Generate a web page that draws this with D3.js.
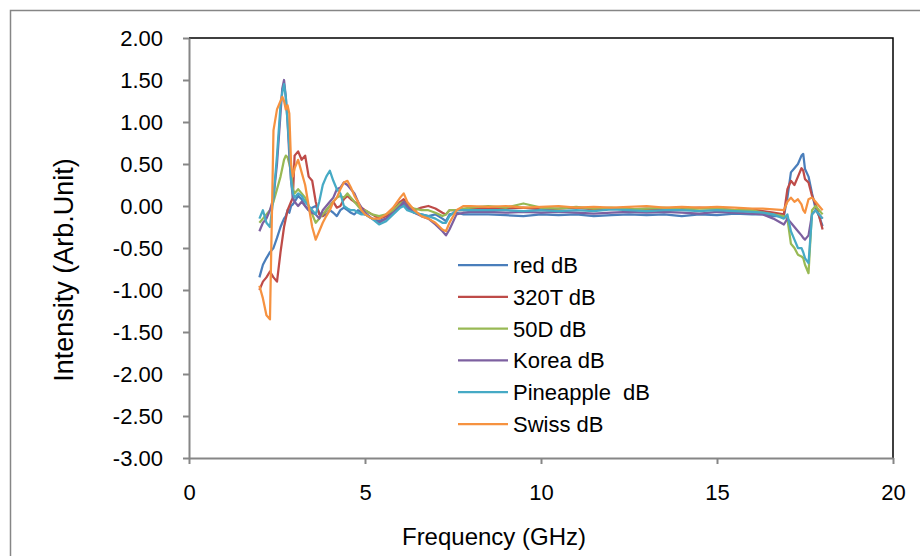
<!DOCTYPE html>
<html>
<head>
<meta charset="utf-8">
<script src="https://cdn.jsdelivr.net/npm/d3@7"></script>
<style>
	html, body { margin: 0; padding: 0; background: #fff; }
	svg { display: block; font-family: "Liberation Sans", Arial, sans-serif; }
</style>
</head>
<body>
<svg id="chart" width="920" height="556"></svg>
<script>
// Frequency points (GHz) shared by every series
const freq = [
	2.0, 2.1, 2.2, 2.3, 2.4, 2.5, 2.6, 2.65, 2.7, 2.75, 2.8, 2.85, 2.9, 2.95, 3.0,
	3.1, 3.2, 3.3, 3.4, 3.5, 3.6, 3.7, 3.8, 3.9, 4.0, 4.1, 4.2, 4.3, 4.4, 4.5,
	4.6, 4.7, 4.8, 4.9, 5.0,
	5.2, 5.4, 5.6, 5.8, 6.0, 6.1, 6.2, 6.4, 6.6, 6.8, 7.0, 7.2, 7.3, 7.4, 7.6, 7.8, 8.0,
	8.5, 9.0, 9.5, 10.0, 10.5, 11.0, 11.5, 12.0, 12.5, 13.0, 13.5, 14.0, 14.5, 15.0, 15.5, 16.0,
	16.3, 16.6, 16.9, 17.0, 17.1, 17.2, 17.3, 17.4, 17.45, 17.5, 17.6, 17.7, 17.8, 17.9, 18.0
];

const redDb = [
	-0.85, -0.70, -0.62, -0.55, -0.50, -0.38, -0.25, -0.20, -0.15, -0.12, -0.05, -0.08, 0.00, 0.02, 0.05,
	0.12, 0.08, 0.00, -0.05, -0.02, 0.00, -0.08, -0.12, -0.10, -0.05, -0.08, -0.12, -0.05, -0.02, -0.05,
	-0.08, -0.10, -0.05, -0.08, -0.10,
	-0.15, -0.18, -0.15, -0.08, 0.00, 0.02, -0.03, -0.08, -0.10, -0.12, -0.10, -0.15, -0.18, -0.10, -0.08, -0.10, -0.10,
	-0.10, -0.11, -0.12, -0.10, -0.11, -0.10, -0.12, -0.11, -0.10, -0.11, -0.10, -0.12, -0.10, -0.11, -0.09, -0.10,
	-0.10, -0.12, -0.12, 0.10, 0.40, 0.45, 0.50, 0.60, 0.62, 0.44, 0.35, 0.15, -0.03, -0.12, -0.24
];

const t320Db = [
	-1.00, -0.90, -0.85, -0.78, -0.85, -0.90, -0.55, -0.40, -0.25, -0.15, -0.05, 0.00, 0.05, 0.10, 0.60,
	0.65, 0.55, 0.60, 0.35, 0.30, 0.05, -0.10, -0.12, -0.05, 0.00, 0.05, -0.02, 0.00, 0.08, 0.12,
	0.08, 0.05, 0.02, -0.02, -0.05,
	-0.10, -0.15, -0.12, -0.05, 0.05, 0.08, 0.02, -0.05, -0.02, 0.00, -0.03, -0.08, -0.10, -0.05, -0.05, -0.05, -0.03,
	-0.02, -0.03, -0.02, -0.04, -0.03, -0.02, -0.04, -0.03, -0.04, -0.03, -0.04, -0.03, -0.02, -0.03, -0.05, -0.04,
	-0.06, -0.08, -0.10, 0.20, 0.30, 0.25, 0.35, 0.45, 0.42, 0.32, 0.28, 0.12, 0.02, -0.12, -0.28
];

const d50Db = [
	-0.20, -0.15, -0.10, -0.05, 0.05, 0.20, 0.35, 0.45, 0.55, 0.60, 0.58, 0.50, 0.40, 0.20, 0.15,
	0.20, 0.15, 0.10, 0.00, -0.10, -0.20, -0.15, -0.10, -0.05, 0.00, 0.05, 0.10, 0.12, 0.10, 0.15,
	0.10, 0.05, 0.00, -0.05, -0.05,
	-0.10, -0.12, -0.10, -0.05, 0.03, 0.05, 0.00, -0.03, -0.05, -0.05, -0.08, -0.12, -0.10, -0.05, -0.05, -0.03, -0.02,
	0.00, -0.02, 0.03, -0.02, -0.03, -0.01, -0.03, -0.02, -0.04, -0.03, -0.02, -0.04, -0.03, -0.03, -0.05, -0.05,
	-0.08, -0.10, -0.12, -0.15, -0.45, -0.50, -0.58, -0.60, -0.62, -0.70, -0.80, -0.05, 0.00, -0.05, -0.10
];

const koreaDb = [
	-0.30, -0.20, -0.15, -0.05, 0.10, 0.50, 1.10, 1.40, 1.50, 1.30, 1.00, 0.60, 0.30, 0.10, 0.05,
	0.00, 0.05, 0.00, -0.05, -0.08, -0.10, -0.15, -0.05, 0.00, 0.05, 0.10, 0.20, 0.22, 0.28, 0.25,
	0.20, 0.15, 0.05, -0.02, -0.08,
	-0.15, -0.20, -0.15, -0.08, 0.00, 0.05, 0.00, -0.08, -0.12, -0.15, -0.22, -0.30, -0.35, -0.28, -0.10, -0.08, -0.07,
	-0.07, -0.08, -0.07, -0.08, -0.07, -0.08, -0.09, -0.08, -0.07, -0.08, -0.07, -0.08, -0.09, -0.07, -0.08, -0.09,
	-0.10, -0.15, -0.22, -0.15, -0.20, -0.25, -0.30, -0.35, -0.38, -0.40, -0.35, -0.10, -0.05, -0.10, -0.15
];

const pineappleDb = [
	-0.15, -0.05, -0.20, -0.25, 0.10, 0.60, 1.20, 1.35, 1.45, 1.30, 1.00, 0.70, 0.30, 0.15, 0.10,
	0.15, 0.12, 0.05, 0.00, -0.05, -0.10, 0.05, 0.25, 0.35, 0.42, 0.30, 0.20, 0.15, 0.00, -0.03,
	-0.05, -0.05, -0.08, -0.10, -0.10,
	-0.15, -0.22, -0.18, -0.10, -0.02, 0.00, -0.05, -0.08, -0.10, -0.12, -0.15, -0.20, -0.20, -0.12, -0.05, -0.05, -0.05,
	-0.05, -0.05, -0.06, -0.05, -0.06, -0.05, -0.06, -0.04, -0.05, -0.06, -0.05, -0.05, -0.06, -0.05, -0.06, -0.07,
	-0.08, -0.10, -0.15, -0.10, -0.30, -0.40, -0.50, -0.50, -0.55, -0.62, -0.68, -0.10, -0.05, -0.10, -0.15
];

const swissDb = [
	-0.95, -1.10, -1.30, -1.35, 0.90, 1.15, 1.25, 1.30, 1.25, 1.15, 1.20, 1.10, 0.50, 0.35, 0.45,
	0.55, 0.40, 0.25, 0.00, -0.25, -0.40, -0.30, -0.20, -0.12, -0.05, 0.05, 0.10, 0.20, 0.28, 0.30,
	0.22, 0.12, 0.05, -0.05, -0.10,
	-0.15, -0.15, -0.10, -0.02, 0.10, 0.15, 0.05, -0.05, -0.12, -0.15, -0.20, -0.28, -0.30, -0.20, -0.05, 0.00, 0.00,
	-0.01, 0.00, -0.02, -0.01, 0.00, -0.02, -0.01, -0.02, -0.01, 0.00, -0.02, -0.01, -0.02, -0.01, -0.02, -0.03,
	-0.03, -0.04, -0.05, 0.05, 0.10, 0.05, 0.08, 0.02, -0.05, -0.08, 0.08, 0.10, 0.05, 0.00, -0.05
];

const seriesNames = ['red dB', '320T dB', '50D dB', 'Korea dB', 'Pineapple  dB', 'Swiss dB'];
const seriesValues = [redDb, t320Db, d50Db, koreaDb, pineappleDb, swissDb];
const seriesColors = ['#4A7EBB', '#BE4B48', '#98B954', '#7D60A0', '#46AAC5', '#F69240'];

const xTicks = [0, 5, 10, 15, 20];
const yTicks = [2, 1.5, 1, 0.5, 0, -0.5, -1, -1.5, -2, -2.5, -3];

const PLOT = {left: 189, right: 893, top: 38, bottom: 458};
const AXIS_COLOR = '#868686';

const svg = d3.select('#chart');

// chart area frame (cut by the picture edge on the right and bottom)
svg.append('rect')
	.attr('x', 10.5)
	.attr('y', 10.5)
	.attr('width', 940)
	.attr('height', 580)
	.attr('fill', '#fff')
	.attr('stroke', '#868686')
	.attr('stroke-width', 1.5);

const x = d3.scaleLinear().domain([0, 20]).range([PLOT.left, PLOT.right]);
const y = d3.scaleLinear().domain([-3, 2]).range([PLOT.bottom, PLOT.top]);

// plot area border (top and right)
svg.append('path')
	.attr('d', `M${PLOT.left},${PLOT.top}H${PLOT.right}V${PLOT.bottom}`)
	.attr('fill', 'none')
	.attr('stroke', '#000')
	.attr('stroke-width', 1.5);

const yAxis = svg.append('g')
	.attr('transform', `translate(${PLOT.left},0)`)
	.call(d3.axisLeft(y).tickValues(yTicks).tickFormat(d => d.toFixed(2)).tickSize(6).tickSizeOuter(0).tickPadding(20));

const xAxis = svg.append('g')
	.attr('transform', `translate(0,${PLOT.bottom})`)
	.call(d3.axisBottom(x).tickValues(xTicks).tickSize(6).tickSizeOuter(0).tickPadding(20));

[yAxis, xAxis].forEach(axis => {
	axis.select('.domain').attr('stroke', AXIS_COLOR).attr('stroke-width', 2);
	axis.selectAll('.tick line').attr('stroke', AXIS_COLOR).attr('stroke-width', 2);
	axis.selectAll('.tick text')
		.attr('fill', '#000')
		.style('font-family', '"Liberation Sans", Arial, sans-serif')
		.style('font-size', '22px');
});

// series lines
const line = d3.line()
	.x((d, i) => x(freq[i]))
	.y(d => y(d));

svg.append('g')
	.selectAll('path')
	.data(seriesValues)
	.join('path')
	.attr('d', d => line(d))
	.attr('fill', 'none')
	.attr('stroke', (d, i) => seriesColors[i])
	.attr('stroke-width', 2.25)
	.attr('stroke-linejoin', 'round');

// legend
const legend = svg.append('g')
	.attr('transform', 'translate(458,265)');

const legendRows = legend.selectAll('g')
	.data(seriesNames)
	.join('g')
	.attr('transform', (d, i) => `translate(0,${i * 31.8})`);

legendRows.append('line')
	.attr('x1', 0)
	.attr('x2', 50)
	.attr('stroke', (d, i) => seriesColors[i])
	.attr('stroke-width', 2.25);

legendRows.append('text')
	.attr('x', 55)
	.attr('dy', '0.36em')
	.attr('font-size', 22)
	.style('white-space', 'pre')
	.text(d => d);

// axis titles
svg.append('text')
	.attr('x', 494)
	.attr('y', 545)
	.attr('text-anchor', 'middle')
	.attr('font-size', 24)
	.text('Frequency (GHz)');

svg.append('text')
	.attr('transform', 'translate(73,270) rotate(-90)')
	.attr('text-anchor', 'middle')
	.attr('font-size', 27)
	.text('Intensity (Arb.Unit)');
</script>
</body>
</html>
